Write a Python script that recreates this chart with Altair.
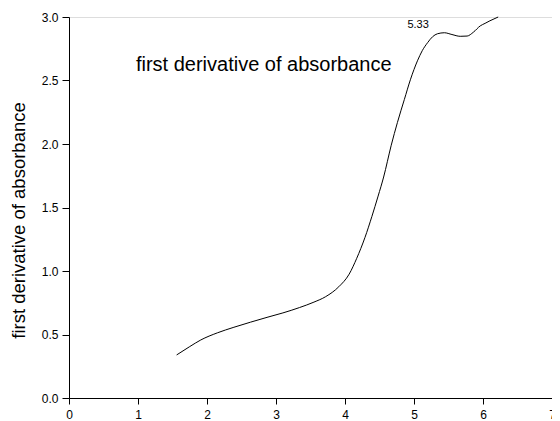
import altair as alt
import pandas as pd

# curve
xs = [1.56, 1.75, 1.91, 2.15, 2.39, 2.63, 2.87, 3.10, 3.34, 3.55, 3.72, 3.91, 4.06, 4.17,
      4.29, 4.39, 4.48, 4.56, 4.67, 4.76, 4.86, 4.95, 5.05, 5.12, 5.20, 5.27, 5.34, 5.44,
      5.55, 5.67, 5.77, 5.86, 5.96, 6.03, 6.10, 6.22]
ys = [0.339, 0.405, 0.457, 0.513, 0.557, 0.597, 0.635, 0.670, 0.712, 0.755, 0.798, 0.876, 0.975, 1.10,
      1.265, 1.43, 1.59, 1.74, 1.99, 2.17, 2.35, 2.51, 2.655, 2.735, 2.80, 2.845, 2.868, 2.876,
      2.862, 2.848, 2.85, 2.88, 2.93, 2.95, 2.97, 3.00]

x_ticks = [i * 0.5 for i in range(15)]
y_ticks = [i * 0.25 for i in range(13)]

label_texts = ["first derivative of absorbance", "5.33"]
label_x = [0.97, 5.06]
label_y = [2.622, 2.937]

df = pd.DataFrame({"x": xs, "y": ys})
lab = pd.DataFrame({"x": label_x, "y": label_y, "t": label_texts})

xscale = alt.Scale(domain=[0, 7], nice=False, zero=False)
yscale = alt.Scale(domain=[0, 3], nice=False, zero=False)

FONT = "Liberation Sans"

xaxis = alt.Axis(
    values=x_ticks, title=None, grid=False,
    labelExpr="datum.value % 1 == 0 ? format(datum.value, 'd') : ''",
    domainColor="black", tickColor="black", labelColor="black",
    labelFont=FONT, labelFontSize=12, labelPadding=5,
    tickSize={"condition": {"test": "datum.value % 1 == 0", "value": 6}, "value": 3},
    labelFlush=False, labelOverlap=False,
)
yaxis = alt.Axis(
    values=y_ticks, title="first derivative of absorbance", grid=False,
    labelExpr="datum.value % 0.5 == 0 ? format(datum.value, '.1f') : ''",
    domainColor="black", tickColor="black", labelColor="black",
    labelFont=FONT, labelFontSize=12, labelPadding=4,
    tickSize={"condition": {"test": "datum.value % 0.5 == 0", "value": 7}, "value": 3},
    titleFont=FONT, titleFontSize=18.5, titleFontWeight="normal",
    titleColor="black", titleAngle=270, titleAlign="center", titleBaseline="middle",
    titleX=-51, titleY=203,
    labelFlush=False, labelOverlap=False,
)

line = alt.Chart(df).mark_line(color="black", strokeWidth=1, interpolate="monotone").encode(
    x=alt.X("x:Q", scale=xscale, axis=xaxis),
    y=alt.Y("y:Q", scale=yscale, axis=yaxis),
)

big = alt.Chart(lab.iloc[[0]]).mark_text(
    align="left", baseline="middle", font=FONT, fontSize=20, color="black"
).encode(x=alt.X("x:Q", scale=xscale), y=alt.Y("y:Q", scale=yscale), text="t:N")

small = alt.Chart(lab.iloc[[1]]).mark_text(
    align="center", baseline="middle", font=FONT, fontSize=11, color="black"
).encode(x=alt.X("x:Q", scale=xscale), y=alt.Y("y:Q", scale=yscale), text="t:N")

chart = alt.layer(line, big, small).properties(
    width=483, height=381,
    autosize=alt.AutoSizeParams(type="none"),
    padding={"left": 61, "top": 9, "right": 0, "bottom": 22},
).configure_view(stroke=None).configure(background="white")

chart.save("out.html", embed_options={"renderer": "svg", "actions": False})
